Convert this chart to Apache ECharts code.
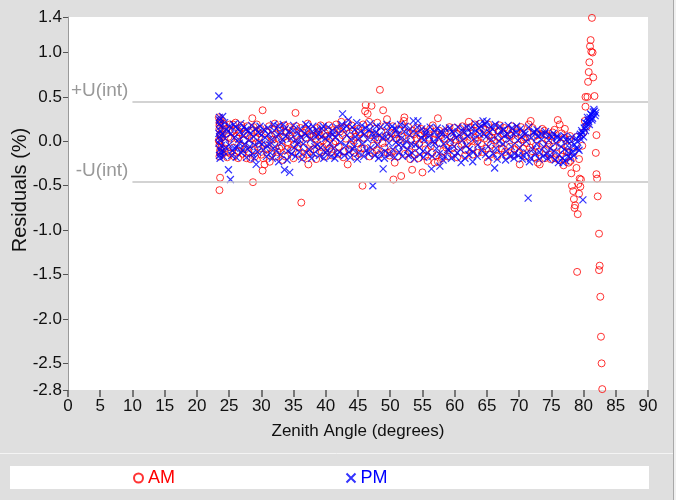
<!DOCTYPE html>
<html>
<head>
<meta charset="utf-8">
<script src="https://cdn.jsdelivr.net/npm/echarts@6/dist/echarts.min.js"></script>
<style>
html,body{margin:0;padding:0;background:#dfdfdf;}
#chart{width:676px;height:500px;}
</style>
</head>
<body>
<div id="chart"></div>
<script>
var seriesNames = ['AM', 'PM'];
var xTicks = [0,5,10,15,20,25,30,35,40,45,50,55,60,65,70,75,80,85,90];
var yTicks = [-2.8,-2.5,-2.0,-1.5,-1.0,-0.5,0.0,0.5,1.0,1.4];
var uLimit = [0.45, -0.45];
var uLabels = ['+U(int)', '-U(int)'];

var amData = [
[23.4,0.27],[23.5,0.21],[23.5,0.14],[23.6,0.08],[23.4,0.01],[23.5,-0.04],[23.6,-0.10],[23.5,-0.17],[23.6,-0.41],[23.5,-0.55],[23.7,0.25],[23.8,-0.07],[23.9,0.12],[24.0,-0.14],[23.8,0.04],[24.2,0.18],[24.4,-0.02],[24.6,0.09],[24.8,-0.12],[25.1,0.19],[25.3,0.03],[25.6,0.19],[25.7,-0.07],[25.9,0.13],
[26.1,0.06],[26.4,-0.19],[26.6,0.10],[26.8,-0.05],[27.0,0.15],[27.3,0.01],[27.5,-0.09],[27.7,-0.19],[27.9,0.07],[28.2,-0.03],[28.4,0.12],[28.6,0.26],[28.7,-0.46],[28.9,-0.10],[29.1,0.04],[29.3,0.19],[29.5,-0.06],[29.7,0.09],[30.0,-0.15],[30.2,0.35],[30.2,-0.33],[30.5,-0.26],[30.6,0.02],[30.8,0.11],
[31.0,-0.08],[31.3,-0.23],[31.5,0.06],[31.7,0.14],[32.0,-0.03],[32.2,0.08],[32.5,-0.12],[32.7,0.03],[32.9,0.16],[33.2,-0.06],[33.4,0.05],[33.7,-0.17],[33.9,0.10],[34.1,-0.01],[34.4,0.07],[34.6,-0.10],[34.9,0.13],[35.1,-0.04],[35.3,0.32],[35.5,0.06],[35.8,-0.14],
[36.0,0.02],[36.2,-0.69],[36.4,0.10],[36.6,-0.07],[36.9,0.04],[37.1,-0.15],[37.3,-0.26],[37.5,0.08],[37.7,-0.02],[38.0,0.12],[38.2,-0.09],[38.4,0.03],[38.7,0.15],[38.9,-0.05],[39.1,0.07],[39.4,-0.12],[39.6,0.01],[39.9,0.09],[40.1,-0.03],[40.3,0.13],
[40.6,-0.08],[40.8,0.05],[41.0,-0.16],[41.3,0.10],[41.5,0.00],[41.8,0.14],[42.0,-0.06],[42.4,0.22],[42.6,0.07],[42.8,-0.11],[43.1,0.03],[43.4,0.21],[43.4,-0.26],[43.7,0.09],[43.9,-0.04],[44.2,0.12],[44.4,-0.13],[44.7,0.05],[44.9,-0.02],
[45.2,0.10],[45.5,-0.08],[45.7,-0.50],[45.9,0.04],[46.1,0.34],[46.2,0.41],[46.5,0.31],[46.8,-0.17],[47.0,0.07],[47.1,0.40],[47.4,-0.05],[47.6,0.14],[47.9,-0.10],[48.1,0.02],[48.4,0.58],[48.6,0.11],[48.9,0.35],[49.1,-0.07],[49.4,0.06],[49.6,-0.13],[49.9,-0.16],
[50.2,0.09],[50.5,-0.43],[50.7,-0.24],[50.9,0.03],[51.2,-0.08],[51.4,0.13],[51.7,-0.39],[51.9,0.05],[52.1,0.23],[52.2,0.27],[52.5,-0.04],[52.7,0.10],[53.0,-0.12],[53.2,0.02],[53.4,-0.32],[53.7,0.08],[53.9,-0.06],[54.2,0.15],[54.5,-0.03],[54.7,0.06],
[55.0,-0.35],[55.3,0.11],[55.5,-0.09],[55.8,-0.22],[56.0,0.04],[56.3,-0.05],[56.6,0.18],[56.9,-0.24],[57.1,0.08],[57.4,0.26],[57.4,-0.23],[57.7,-0.02],[57.9,0.07],[58.2,-0.11],[58.5,0.03],[58.7,-0.07],[59.0,0.12],[59.3,-0.01],[59.5,0.05],[59.8,-0.14],
[60.1,0.02],[60.3,0.09],[60.6,-0.06],[60.9,0.14],[61.1,-0.03],[61.4,0.06],[61.7,-0.10],[61.9,0.10],[62.2,0.22],[62.4,0.01],[62.7,-0.07],[62.9,0.12],[63.2,0.04],[63.6,-0.13],[63.8,0.08],[64.1,-0.02],[64.4,0.15],[64.6,0.03],[64.9,-0.08],
[65.1,-0.23],[65.3,0.07],[65.6,-0.04],[65.9,0.11],[66.1,0.01],[66.4,-0.09],[66.7,0.05],[67.0,0.18],[67.2,-0.02],[67.5,0.09],[67.8,-0.12],[68.0,0.03],[68.3,0.13],[68.6,-0.06],[68.8,0.06],[69.1,-0.15],[69.4,0.02],[69.6,0.10],[69.9,-0.04],
[70.1,-0.26],[70.4,0.07],[70.6,-0.08],[70.9,0.04],[71.2,-0.02],[71.5,0.19],[71.8,0.23],[72.0,-0.11],[72.3,0.05],[72.6,-0.05],[72.9,-0.24],[73.2,-0.26],[73.4,0.08],[73.7,-0.03],[73.9,0.12],[74.2,-0.09],[74.5,0.01],[74.7,-0.15],
[75.0,0.06],[75.3,-0.06],[75.5,0.13],[75.8,-0.14],[76.0,0.24],[76.3,0.19],[76.5,-0.02],[76.8,-0.10],[77.0,0.04],[77.3,-0.18],[77.5,-0.06],[77.8,0.02],[78.0,-0.22],
[78.1,-0.36],[78.2,-0.50],[78.4,-0.56],[78.5,-0.65],[78.6,-0.75],[78.7,-0.72],[79.0,-1.47],[79.1,-0.82],[79.2,-0.48],[79.3,-0.59],[79.4,-0.42],[79.5,-0.51],[79.6,-0.43],[78.9,-0.30],[79.8,-0.05],[80.0,0.10],
[80.3,0.39],[80.3,0.50],[80.6,0.50],[80.7,0.67],[80.8,0.78],[80.9,0.89],[81.0,1.07],[81.1,1.14],[81.2,1.01],[81.3,1.39],[81.4,1.00],[81.5,0.72],[81.7,0.51],[82.0,0.07],[81.9,-0.13],[82.0,-0.37],[82.1,-0.42],[82.2,-0.62],[82.4,-1.04],[82.4,-1.45],[82.5,-1.40],[82.6,-1.75],[82.7,-2.20],[82.8,-2.50],[82.9,-2.79],
[23.5,0.18],[23.6,-0.13],[23.7,0.06],[23.5,0.00],[23.6,0.23],[24.1,0.20],[24.3,-0.08],[24.5,0.14],[24.7,-0.18],[24.9,0.05],[25.2,-0.14],[25.5,0.11],[25.8,-0.17],[26.0,0.21],[26.3,0.03],[26.5,-0.11],[26.9,0.18],[27.1,-0.14],[27.4,0.09],[27.8,0.17],[28.0,-0.12],[28.3,-0.20],[28.5,0.03],[28.8,0.16],[29.0,-0.17],[29.4,0.11],[29.6,-0.02],[29.9,0.14],[30.3,-0.19],[30.7,-0.09],
[31.2,0.17],[31.6,-0.14],[31.8,0.02],[32.1,0.20],[32.3,-0.17],[32.8,-0.08],[33.0,0.12],[33.3,-0.21],[33.6,0.18],[34.0,-0.09],[34.3,0.16],[34.7,0.03],[35.0,-0.19],[35.4,0.17],[35.7,-0.06],[36.1,0.15],[36.5,-0.18],[36.8,0.12],[37.2,0.20],[37.6,-0.11],[38.1,0.06],[38.5,-0.20],[38.8,0.10],[39.2,0.18],[39.5,-0.07],[39.8,-0.17],
[40.2,0.06],[40.5,0.18],[40.9,-0.12],[41.2,-0.03],[41.6,0.19],[41.9,-0.14],[42.2,0.11],[42.7,-0.18],[43.0,0.15],[43.6,-0.09],[44.0,0.18],[44.3,0.01],[44.6,-0.17],[45.0,0.14],[45.3,-0.14],[45.8,0.19],[46.0,-0.08],[46.4,0.09],[46.7,0.22],[47.2,-0.13],[47.7,0.04],[48.0,0.21],[48.3,-0.15],[48.8,-0.02],[49.2,0.17],[49.5,0.25],[49.8,0.04],
[50.1,-0.12],[50.4,0.17],[50.8,0.08],[51.1,-0.17],[51.5,0.02],[51.8,0.19],[52.3,-0.14],[52.8,0.16],[53.1,-0.20],[53.5,0.12],[53.8,-0.15],[54.1,0.03],[54.4,-0.19],[54.8,0.14],[55.1,0.02],[55.4,-0.17],[55.9,0.09],[56.2,0.14],[56.5,-0.13],[56.8,0.02],[57.2,-0.16],[57.6,0.12],[58.0,-0.19],[58.4,0.10],[58.9,-0.17],[59.2,0.16],[59.6,-0.08],
[60.0,0.15],[60.4,-0.18],[60.8,0.03],[61.2,0.17],[61.6,-0.16],[62.0,-0.02],[62.5,0.16],[62.8,-0.15],[63.1,0.19],[63.5,0.00],[64.0,0.20],[64.3,-0.12],[64.8,0.13],[65.2,0.19],[65.5,-0.15],[65.8,0.04],[66.2,0.16],[66.6,-0.17],[66.9,0.12],[67.3,-0.08],[67.7,0.15],[68.1,-0.16],[68.5,0.07],[68.9,0.17],[69.3,-0.09],[69.7,0.14],
[70.0,-0.13],[70.3,0.16],[70.7,0.02],[71.0,-0.17],[71.3,0.10],[71.7,-0.07],[72.1,0.15],[72.5,-0.18],[72.8,0.07],[73.1,-0.12],[73.6,0.14],[74.0,-0.19],[74.3,0.07],[74.6,-0.04],[74.9,-0.20],[75.2,0.10],[75.6,-0.19],[75.9,0.02],[76.2,-0.21],[76.6,0.09],[76.9,-0.27],[77.1,0.14],[77.4,-0.12],[77.7,-0.24],[77.9,0.06],
[80.2,0.23],[80.5,0.17],[79.0,0.05],[78.5,-0.12],[79.3,-0.20]
];

var pmData = [
[23.4,0.51],[23.5,0.27],[23.5,0.20],[23.6,0.12],[23.5,0.05],[23.4,-0.02],[23.6,-0.09],[23.5,-0.16],[23.7,0.17],[23.8,-0.05],[24.0,0.28],[24.0,0.08],[24.2,-0.12],[24.4,0.03],[24.6,0.14],[24.9,-0.32],[25.0,-0.04],[25.2,-0.43],[25.3,0.09],[25.5,-0.10],[25.8,0.04],
[26.0,0.16],[26.2,-0.07],[26.5,0.02],[26.7,0.11],[26.9,-0.13],[27.2,0.06],[27.4,-0.03],[27.6,0.13],[27.9,-0.09],[28.1,0.01],[28.3,0.09],[28.6,-0.14],[28.8,0.05],[29.0,-0.04],[29.2,-0.26],[29.5,0.10],[29.7,-0.01],[30.0,0.07],[30.3,-0.10],[30.6,0.04],[30.9,-0.05],
[31.1,0.08],[31.4,-0.13],[31.6,0.02],[31.9,0.19],[32.1,-0.06],[32.4,0.05],[32.7,-0.23],[32.9,0.10],[33.1,-0.02],[33.4,0.19],[33.6,-0.32],[33.8,0.06],[34.1,-0.11],[34.4,-0.35],[34.6,0.03],[34.9,0.12],[35.1,-0.07],[35.4,0.01],[35.7,0.09],
[35.9,-0.12],[36.2,0.04],[36.5,-0.03],[36.9,0.19],[37.1,0.07],[37.4,-0.09],[37.6,0.02],[37.9,0.11],[38.1,-0.14],[38.4,0.05],[38.7,-0.04],[38.9,0.08],[39.2,-0.07],[39.4,0.14],[39.7,-0.19],[39.9,0.03],[40.2,-0.10],
[40.5,0.06],[40.7,-0.02],[41.0,0.12],[41.2,-0.08],[41.5,0.04],[41.8,-0.15],[42.0,0.09],[42.3,-0.01],[42.6,0.31],[42.8,0.14],[43.1,-0.05],[43.3,0.07],[43.6,-0.12],[43.9,0.02],[44.1,0.16],[44.4,-0.06],[44.6,0.05],[44.9,-0.20],
[45.2,0.03],[45.4,0.11],[45.7,-0.03],[46.0,0.08],[46.3,-0.10],[46.5,0.02],[46.8,0.13],[47.0,-0.07],[47.3,-0.50],[47.5,0.04],[47.8,0.10],[48.0,-0.04],[48.3,0.07],[48.6,-0.13],[48.9,-0.31],[49.1,-0.19],[49.3,0.05],[49.6,0.12],[49.8,-0.02],
[50.1,0.06],[50.4,-0.09],[50.6,0.14],[50.9,-0.01],[51.2,0.08],[51.4,-0.12],[51.7,0.03],[52.0,-0.05],[52.2,0.11],[52.5,0.00],[52.8,-0.16],[53.0,0.07],[53.3,-0.03],[53.6,0.23],[53.7,-0.20],[54.0,0.09],[54.3,0.23],[54.5,-0.07],[54.8,0.04],
[55.1,-0.11],[55.3,0.02],[55.6,0.12],[55.9,-0.04],[56.1,0.06],[56.4,-0.31],[56.7,0.00],[56.9,0.10],[57.2,-0.08],[57.5,0.04],[57.7,-0.28],[58.0,0.08],[58.3,-0.03],[58.5,-0.17],[58.8,0.05],[59.1,-0.10],[59.3,0.01],[59.6,0.11],[59.9,-0.06],
[60.2,0.04],[60.4,-0.13],[60.7,0.07],[61.0,-0.24],[61.2,0.01],[61.5,0.10],[61.8,-0.05],[62.0,0.06],[62.3,-0.09],[62.5,0.15],[62.8,-0.23],[63.0,0.03],[63.3,0.12],[63.6,-0.04],[63.9,0.08],[64.1,0.17],[64.4,0.23],[64.7,0.19],[64.9,0.05],
[65.2,-0.06],[65.4,0.10],[65.7,0.02],[65.9,0.14],[66.2,-0.30],[66.4,-0.08],[66.7,0.07],[66.9,0.00],[67.2,0.12],[67.5,-0.03],[67.7,0.06],[68.0,-0.11],[68.3,0.18],[68.5,0.02],[68.8,-0.06],[69.1,0.09],[69.3,-0.14],[69.6,0.17],[69.8,0.01],
[70.1,-0.07],[70.4,0.05],[70.6,-0.16],[70.9,0.08],[71.1,0.00],[71.4,-0.64],[71.6,-0.23],[71.9,0.04],[72.1,-0.09],[72.4,0.11],[72.7,-0.03],[72.9,0.06],[73.2,-0.12],[73.5,0.02],[73.8,-0.06],[74.0,0.09],[74.3,-0.14],[74.6,0.01],[74.8,-0.08],
[75.1,0.05],[75.4,-0.11],[75.7,-0.02],[75.9,0.04],[76.2,-0.15],[76.5,-0.06],[76.8,-0.24],[77.0,-0.09],[77.3,0.02],[77.6,-0.17],[77.8,-0.07],[78.1,0.00],[78.3,-0.12],[78.6,-0.04],[78.9,0.03],[79.1,-0.08],[79.4,0.06],[79.6,0.02],[79.9,-0.66],[79.8,0.10],[80.1,0.15],[80.3,0.12],[80.5,0.20],[80.7,0.24],[80.9,0.19],[81.0,0.27],[81.2,0.30],[81.4,0.26],[81.5,0.33],[81.7,0.34],[81.8,0.29],
[23.5,0.24],[23.6,-0.19],[23.4,0.09],[23.7,-0.12],[23.6,0.02],[24.1,-0.17],[24.3,0.21],[24.5,-0.07],[24.8,0.11],[25.1,0.17],[25.4,-0.16],[25.7,0.19],[25.9,-0.08],[26.1,-0.18],[26.4,0.14],[26.6,-0.02],[26.8,0.20],[27.1,-0.10],[27.3,0.16],[27.7,-0.18],[28.0,0.12],[28.2,-0.06],[28.5,0.18],[28.9,-0.19],[29.1,0.14],[29.4,-0.12],[29.8,0.17],[30.1,-0.03],[30.4,0.13],[30.8,-0.17],
[31.0,0.15],[31.3,-0.04],[31.7,-0.19],[32.0,0.12],[32.3,-0.11],[32.6,0.17],[33.0,-0.15],[33.3,0.02],[33.7,0.14],[34.0,-0.21],[34.3,0.11],[34.7,-0.14],[35.0,0.18],[35.3,-0.17],[35.6,-0.03],[36.0,0.14],[36.3,-0.20],[36.7,0.09],[37.0,-0.13],[37.3,0.16],[37.8,-0.19],[38.0,0.17],[38.3,-0.06],[38.6,0.13],[39.0,-0.16],[39.3,0.05],[39.6,0.17],
[40.0,-0.13],[40.4,0.16],[40.8,-0.17],[41.1,0.08],[41.4,-0.19],[41.7,0.16],[42.1,-0.12],[42.5,0.19],[42.9,-0.16],[43.2,0.17],[43.5,0.24],[43.8,-0.18],[44.2,-0.09],[44.5,0.13],[44.8,0.21],[45.1,-0.13],[45.6,0.18],[45.9,-0.17],[46.2,0.15],[46.6,-0.14],[46.9,0.20],[47.2,0.09],[47.6,-0.16],[47.9,0.17],[48.2,-0.19],[48.5,0.16],[48.8,0.04],[49.2,-0.11],[49.5,0.19],[49.9,-0.15],
[50.3,0.17],[50.7,-0.18],[51.0,0.13],[51.3,-0.04],[51.6,0.19],[51.9,-0.17],[52.3,0.17],[52.7,-0.09],[53.1,0.14],[53.4,-0.13],[53.9,-0.04],[54.2,0.16],[54.6,-0.15],[54.9,0.14],[55.2,-0.18],[55.5,0.08],[55.8,-0.13],[56.2,0.16],[56.5,-0.17],[56.9,-0.02],[57.3,0.15],[57.6,-0.14],[57.9,0.11],[58.2,-0.21],[58.6,0.14],[58.9,-0.09],[59.2,0.15],[59.5,-0.19],[59.8,0.09],
[60.1,-0.17],[60.5,0.16],[60.9,-0.09],[61.3,0.14],[61.6,-0.19],[61.9,0.16],[62.2,-0.15],[62.6,0.09],[62.9,-0.12],[63.2,0.20],[63.5,-0.17],[63.8,0.15],[64.2,-0.10],[64.5,0.09],[64.8,-0.15],[65.0,0.22],[65.3,-0.18],[65.6,0.16],[66.0,-0.14],[66.3,0.19],[66.6,-0.20],[67.0,0.17],[67.3,-0.15],[67.6,0.13],[67.9,-0.21],[68.2,0.08],[68.6,-0.17],[68.9,0.15],[69.2,-0.19],[69.5,0.10],[69.9,-0.16],
[70.2,0.14],[70.5,-0.20],[70.8,0.11],[71.2,-0.13],[71.5,0.16],[71.8,-0.19],[72.2,0.10],[72.5,-0.15],[72.8,0.13],[73.1,-0.20],[73.4,0.08],[73.7,-0.17],[74.1,0.11],[74.4,-0.19],[74.7,0.07],[75.0,-0.17],[75.3,0.09],[75.6,-0.21],[75.9,0.06],[76.1,-0.24],[76.4,0.03],[76.7,-0.19],[77.0,0.06],[77.2,-0.22],[77.5,0.00],[77.7,-0.13],[78.0,-0.19],[78.2,0.05],[78.5,-0.16],[78.8,-0.08],
[79.0,0.00],[79.3,-0.10],[79.5,0.08],[79.7,0.12],[80.0,0.05],[80.2,0.21],[80.4,0.16],[80.6,0.27],[80.8,0.22],[81.1,0.31],[81.3,0.24],[81.6,0.36],[81.9,0.32]
];

var FONT = '"Liberation Sans", Arial, Helvetica, sans-serif';
var chart = echarts.init(document.getElementById('chart'), null, {renderer: 'canvas'});

var option = {
  animation: false,
  backgroundColor: '#dfdfdf',
  textStyle: {fontFamily: FONT},
  grid: {left: 68, right: 28, top: 17, bottom: 110, show: true, backgroundColor: '#ffffff', borderWidth: 0, containLabel: false},
  graphic: [
    {type: 'line', silent: true, z: -1, shape: {x1: 0, y1: 453.5, x2: 673, y2: 453.5}, style: {stroke: '#f4f4f4', lineWidth: 1}},
    {type: 'line', silent: true, z: -1, shape: {x1: 673.5, y1: 0, x2: 673.5, y2: 500}, style: {stroke: '#a8a8a8', lineWidth: 1}},
    {type: 'rect', silent: true, z: -1, shape: {x: 674, y: 0, width: 2, height: 500}, style: {fill: '#f0f0f0'}},
    {type: 'rect', silent: true, z: -1, shape: {x: 10, y: 466, width: 639, height: 23}, style: {fill: '#ffffff'}},
    {type: 'text', silent: true, x: 20, y: 190, rotation: Math.PI / 2,
     style: {text: 'Residuals (%)', fontSize: 20, fontFamily: FONT, fill: '#111', align: 'center', verticalAlign: 'middle'}}
  ],
  legend: {
    data: [
      {name: seriesNames[0], textStyle: {color: '#ff0000'}},
      {name: seriesNames[1], textStyle: {color: '#0000ff'}}
    ],
    left: 128, top: 464, itemGap: 169, itemWidth: 9, itemHeight: 9,
    textStyle: {fontSize: 18, fontFamily: FONT}
  },
  xAxis: {
    type: 'value', min: 0, max: 90, interval: 5,
    name: 'Zenith Angle (degrees)', nameLocation: 'middle', nameGap: 33,
    nameTextStyle: {fontSize: 17, color: '#111', fontFamily: FONT},
    axisLine: {show: false, onZero: false},
    axisTick: {show: true, length: 7, lineStyle: {color: '#555', width: 1.5}, customValues: xTicks},
    axisLabel: {fontSize: 17, color: '#111', margin: 8, customValues: xTicks, fontFamily: FONT},
    splitLine: {show: false}
  },
  yAxis: {
    type: 'value', min: -2.8, max: 1.4,
    axisLine: {show: true, onZero: false, lineStyle: {color: '#9a9a9a', width: 1}},
    axisTick: {show: true, length: 5, lineStyle: {color: '#555', width: 1}, customValues: yTicks},
    axisLabel: {fontSize: 17, color: '#111', margin: 6, customValues: yTicks, fontFamily: FONT,
      formatter: function (v) { return v.toFixed(1); }},
    splitLine: {show: false}
  },
  series: [
    {
      name: seriesNames[0], type: 'scatter', data: amData,
      symbol: 'circle', symbolSize: 7,
      itemStyle: {color: 'rgba(0,0,0,0)', borderColor: '#ff0000', borderWidth: 1},
      markLine: {
        silent: true, symbol: 'none', animation: false,
        lineStyle: {color: '#c4c4c4', width: 1.5, type: 'solid'},
        label: {show: true, position: 'start', distance: 4, color: '#999', fontSize: 19, fontFamily: FONT, offset: [0, -11]},
        data: [
          [{coord: [10, uLimit[0]], label: {formatter: uLabels[0]}}, {coord: [90, uLimit[0]]}],
          [{coord: [10, uLimit[1]], label: {formatter: uLabels[1]}}, {coord: [90, uLimit[1]]}]
        ]
      }
    },
    {
      name: seriesNames[1], type: 'scatter', data: pmData,
      symbol: 'path://M0,0L10,10M10,0L0,10', symbolSize: 7,
      itemStyle: {color: 'none', borderColor: '#0000ff', borderWidth: 1.2}
    }
  ]
};
chart.setOption(option);
</script>
</body>
</html>
